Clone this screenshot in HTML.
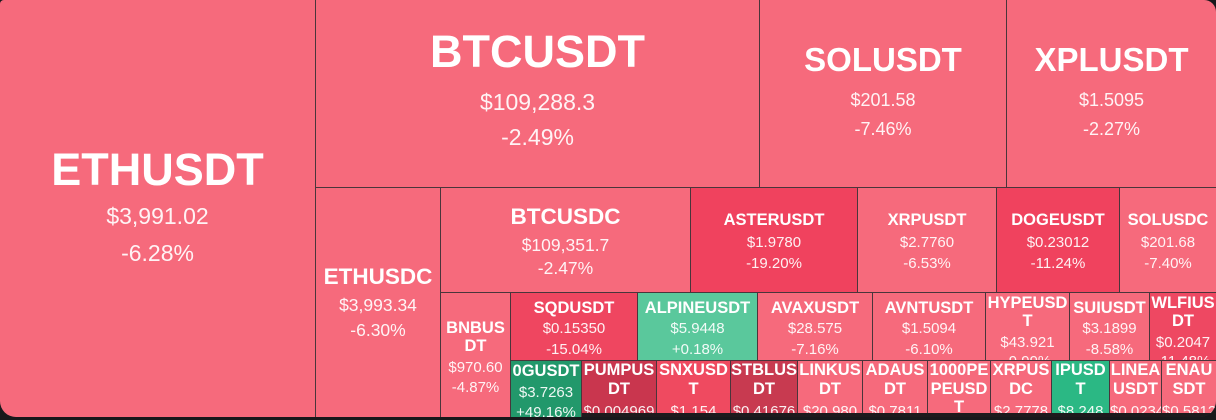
<!DOCTYPE html>
<html><head><meta charset="utf-8"><style>
html,body{margin:0;padding:0;background:#18181b;}
body{width:1216px;height:420px;overflow:hidden;position:relative;font-family:"Liberation Sans",sans-serif;}
#c{position:absolute;left:0;top:0;width:1216px;height:417px;background:#4a353b;border-radius:4px 12px 16px 16px;overflow:hidden;}
#bot{position:absolute;left:582px;top:413px;width:634px;height:4px;background:#1e1a1d;}
.t{position:absolute;overflow:hidden;color:#fff;}
.t div{position:absolute;left:0;right:0;text-align:center;white-space:nowrap;}
.n{font-weight:700;}
.p{color:rgba(255,255,255,0.92);}
.xl .n{font-size:45px;line-height:52px;}
.xl .p{font-size:23px;line-height:28px;}
.lg .n{font-size:33px;line-height:40px;}
.lg .p{font-size:18px;line-height:22px;}
.md .n{font-size:22.5px;line-height:28px;}
.md .p{font-size:17.5px;line-height:22px;}
.sm .n{font-size:16.5px;line-height:20px;}
.sm .p{font-size:15px;line-height:20px;}
</style></head><body>
<div id="c">
<div id="bot"></div>

<div class="t xl" style="left:0;top:0;width:315px;height:417px;background:#f66a7c">
<div class="n" style="top:144px">ETHUSDT</div><div class="p" style="top:202px">$3,991.02</div><div class="p" style="top:239px">-6.28%</div></div>

<div class="t xl" style="left:316px;top:0;width:443px;height:187px;background:#f66a7c">
<div class="n" style="top:26px">BTCUSDT</div><div class="p" style="top:88px">$109,288.3</div><div class="p" style="top:123px">-2.49%</div></div>

<div class="t lg" style="left:760px;top:0;width:246px;height:187px;background:#f66a7c">
<div class="n" style="top:40px">SOLUSDT</div><div class="p" style="top:89px">$201.58</div><div class="p" style="top:118px">-7.46%</div></div>

<div class="t lg" style="left:1007px;top:0;width:209px;height:187px;background:#f66a7c">
<div class="n" style="top:40px">XPLUSDT</div><div class="p" style="top:89px">$1.5095</div><div class="p" style="top:118px">-2.27%</div></div>

<div class="t md" style="left:316px;top:188px;width:124px;height:229px;background:#f66a7c">
<div class="n" style="top:75px">ETHUSDC</div><div class="p" style="top:106px">$3,993.34</div><div class="p" style="top:131px">-6.30%</div></div>

<div class="t md" style="left:441px;top:188px;width:249px;height:104px;background:#f66a7c">
<div class="n" style="top:15px">BTCUSDC</div><div class="p" style="top:46px">$109,351.7</div><div class="p" style="top:69px">-2.47%</div></div>

<div class="t sm" style="left:691px;top:188px;width:166px;height:104px;background:#f0425e">
<div class="n" style="top:22px">ASTERUSDT</div><div class="p" style="top:44.5px">$1.9780</div><div class="p" style="top:66px">-19.20%</div></div>

<div class="t sm" style="left:858px;top:188px;width:138px;height:104px;background:#f66a7c">
<div class="n" style="top:22px">XRPUSDT</div><div class="p" style="top:44.5px">$2.7760</div><div class="p" style="top:66px">-6.53%</div></div>

<div class="t sm" style="left:997px;top:188px;width:122px;height:104px;background:#f0425e">
<div class="n" style="top:22px">DOGEUSDT</div><div class="p" style="top:44.5px">$0.23012</div><div class="p" style="top:66px">-11.24%</div></div>

<div class="t sm" style="left:1120px;top:188px;width:96px;height:104px;background:#f66a7c">
<div class="n" style="top:22px">SOLUSDC</div><div class="p" style="top:44.5px">$201.68</div><div class="p" style="top:66px">-7.40%</div></div>

<div class="t sm" style="left:441px;top:293px;width:69px;height:124px;background:#f66a7c">
<div class="n" style="top:24.5px">BNBUS</div><div class="n" style="top:43px">DT</div><div class="p" style="top:64.5px">$970.60</div><div class="p" style="top:85px">-4.87%</div></div>

<div class="t sm" style="left:511px;top:293px;width:126px;height:67px;background:#ef4660">
<div class="n" style="top:5px">SQDUSDT</div><div class="p" style="top:26px">$0.15350</div><div class="p" style="top:47px">-15.04%</div></div>

<div class="t sm" style="left:638px;top:293px;width:119px;height:67px;background:#5ac89c">
<div class="n" style="top:5px">ALPINEUSDT</div><div class="p" style="top:26px">$5.9448</div><div class="p" style="top:47px">+0.18%</div></div>

<div class="t sm" style="left:758px;top:293px;width:114px;height:67px;background:#f66a7c">
<div class="n" style="top:5px">AVAXUSDT</div><div class="p" style="top:26px">$28.575</div><div class="p" style="top:47px">-7.16%</div></div>

<div class="t sm" style="left:873px;top:293px;width:112px;height:67px;background:#f66a7c">
<div class="n" style="top:5px">AVNTUSDT</div><div class="p" style="top:26px">$1.5094</div><div class="p" style="top:47px">-6.10%</div></div>

<div class="t sm" style="left:986px;top:293px;width:83px;height:67px;background:#f66a7c">
<div class="n" style="top:0px">HYPEUSD</div><div class="n" style="top:18px">T</div><div class="p" style="top:39.5px">$43.921</div><div class="p" style="top:59px">-9.99%</div></div>

<div class="t sm" style="left:1070px;top:293px;width:79px;height:67px;background:#f66a7c">
<div class="n" style="top:5px">SUIUSDT</div><div class="p" style="top:26px">$3.1899</div><div class="p" style="top:47px">-8.58%</div></div>

<div class="t sm" style="left:1150px;top:293px;width:66px;height:67px;background:#ee4862">
<div class="n" style="top:0px">WLFIUS</div><div class="n" style="top:18px">DT</div><div class="p" style="top:39.5px">$0.2047</div><div class="p" style="top:59px">-11.48%</div></div>

<div class="t sm" style="left:511px;top:361px;width:70px;height:56px;background:#22986b">
<div class="n" style="top:0px">0GUSDT</div><div class="p" style="top:21.5px">$3.7263</div><div class="p" style="top:42px">+49.16%</div></div>

<div class="t sm" style="left:582px;top:361px;width:74px;height:52px;background:#c9364e">
<div class="n" style="top:-1px">PUMPUS</div><div class="n" style="top:17.5px">DT</div><div class="p" style="top:41px">$0.004969</div></div>

<div class="t sm" style="left:657px;top:361px;width:73px;height:52px;background:#ef4a60">
<div class="n" style="top:-1px">SNXUSD</div><div class="n" style="top:17.5px">T</div><div class="p" style="top:41px">$1.154</div></div>

<div class="t sm" style="left:731px;top:361px;width:66px;height:52px;background:#c83a50">
<div class="n" style="top:-1px">STBLUS</div><div class="n" style="top:17.5px">DT</div><div class="p" style="top:41px">$0.41676</div></div>

<div class="t sm" style="left:798px;top:361px;width:64px;height:52px;background:#f66a7c">
<div class="n" style="top:-1px">LINKUS</div><div class="n" style="top:17.5px">DT</div><div class="p" style="top:41px">$20.980</div></div>

<div class="t sm" style="left:863px;top:361px;width:64px;height:52px;background:#f66a7c">
<div class="n" style="top:-1px">ADAUS</div><div class="n" style="top:17.5px">DT</div><div class="p" style="top:41px">$0.7811</div></div>

<div class="t sm" style="left:928px;top:361px;width:62px;height:52px;background:#f66a7c">
<div class="n" style="top:-1px">1000PE</div><div class="n" style="top:17.5px">PEUSD</div><div class="n" style="top:36px">T</div></div>

<div class="t sm" style="left:991px;top:361px;width:60px;height:52px;background:#f66a7c">
<div class="n" style="top:-1px">XRPUS</div><div class="n" style="top:17.5px">DC</div><div class="p" style="top:41px">$2.7778</div></div>

<div class="t sm" style="left:1052px;top:361px;width:57px;height:52px;background:#2bb884">
<div class="n" style="top:-1px">IPUSD</div><div class="n" style="top:17.5px">T</div><div class="p" style="top:41px">$8.248</div></div>

<div class="t sm" style="left:1110px;top:361px;width:51px;height:52px;background:#f66a7c">
<div class="n" style="top:-1px">LINEA</div><div class="n" style="top:17.5px">USDT</div><div class="p" style="top:41px">$0.02345</div></div>

<div class="t sm" style="left:1162px;top:361px;width:54px;height:52px;background:#f66a7c">
<div class="n" style="top:-1px">ENAU</div><div class="n" style="top:17.5px">SDT</div><div class="p" style="top:41px">$0.5812</div></div>

</div>
</body></html>
